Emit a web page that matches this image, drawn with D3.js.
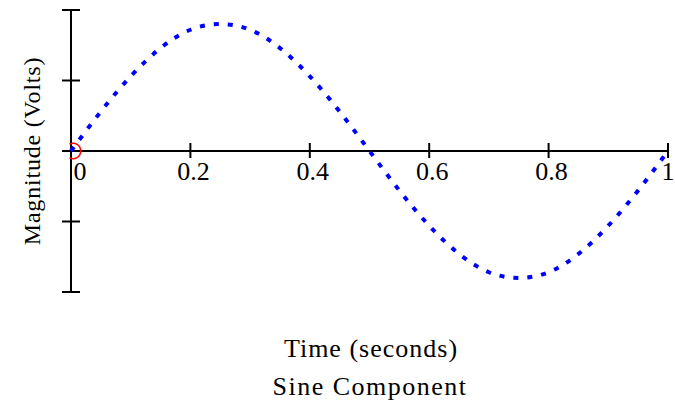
<!DOCTYPE html>
<html>
<head>
<meta charset="utf-8">
<script src="https://cdn.jsdelivr.net/npm/d3@7/dist/d3.min.js"></script>
<style>
  body { margin: 0; background: #fff; }
  text { font-family: "Liberation Serif", "Times New Roman", serif; fill: #000; }
</style>
</head>
<body>
<svg id="chart" width="675" height="408"></svg>
<script>
// Sine component
const times = [0, 0.05, 0.1, 0.15, 0.2, 0.25, 0.3, 0.35, 0.4, 0.45, 0.5,
               0.55, 0.6, 0.65, 0.7, 0.75, 0.8, 0.85, 0.9, 0.95, 1];
const volts = [0, 0.28, 0.53, 0.73, 0.86, 0.9, 0.86, 0.73, 0.53, 0.28, 0,
               -0.28, -0.53, -0.73, -0.86, -0.9, -0.86, -0.73, -0.53, -0.28, 0];
const xTicks = [0, 0.2, 0.4, 0.6, 0.8, 1];
const xTickLabels = ["0", "0.2", "0.4", "0.6", "0.8", "1"];
const yTicks = [-1, -0.5, 0.5, 1];

let svg = d3.select("#chart");

// Scales
// ---------------------------------------------------------
let x = d3.scaleLinear().domain([0, 1]).range([71, 668]);
let y = d3.scaleLinear().domain([-1, 1]).range([292, 10]);

// Axes
// ---------------------------------------------------------
let axes = svg.append("g")
    .attr("stroke", "#000")
    .attr("stroke-width", 2);

// horizontal axis, a little past the vertical one on the left
axes.append("line")
    .attr("x1", x(0) - 9).attr("x2", x(1))
    .attr("y1", y(0)).attr("y2", y(0));

axes.append("line")
    .attr("x1", x(0)).attr("x2", x(0))
    .attr("y1", y(1)).attr("y2", y(-1));

// x ticks cross the axis
axes.selectAll(".xTick")
    .data(xTicks.filter(d => d > 0))
    .enter()
    .append("line")
    .attr("class", "xTick")
    .attr("x1", d => x(d)).attr("x2", d => x(d))
    .attr("y1", y(0) - 8).attr("y2", y(0) + 7);

axes.selectAll(".yTick")
    .data(yTicks)
    .enter()
    .append("line")
    .attr("class", "yTick")
    .attr("x1", x(0) - 9).attr("x2", x(0) + 9)
    .attr("y1", d => y(d)).attr("y2", d => y(d));

svg.selectAll(".xLabel")
    .data(xTicks)
    .enter()
    .append("text")
    .attr("class", "xLabel")
    .attr("x", d => x(d) + (d === 0 ? 9 : d === 1 ? 0 : 3))
    .attr("y", y(0) + 29)
    .attr("text-anchor", "middle")
    .attr("font-size", 26)
    .text((d, i) => xTickLabels[i]);

// Axis titles
// ---------------------------------------------------------
svg.append("text")
    .attr("x", 371)
    .attr("y", 357)
    .attr("text-anchor", "middle")
    .attr("font-size", 26)
    .attr("letter-spacing", 1)
    .text("Time (seconds)");

svg.append("text")
    .attr("x", 370)
    .attr("y", 395)
    .attr("text-anchor", "middle")
    .attr("font-size", 26)
    .attr("letter-spacing", 1.5)
    .text("Sine Component");

svg.append("text")
    .attr("transform", "translate(40," + y(0) + ") rotate(-90)")
    .attr("text-anchor", "middle")
    .attr("font-size", 24)
    .attr("letter-spacing", 0.8)
    .text("Magnitude (Volts)");

// Sine curve, dotted
// ---------------------------------------------------------
let lineGen = d3.line()
    .x((d, i) => x(times[i]))
    .y(d => y(d))
    .curve(d3.curveNatural);

svg.append("path")
    .datum(volts)
    .attr("d", lineGen)
    .attr("fill", "none")
    .attr("stroke", "#0000ff")
    .attr("stroke-width", 4)
    .attr("stroke-dasharray", "5,9");

// red marker at the origin
svg.append("path")
    .attr("transform", "translate(" + (x(0) + 2) + "," + y(0) + ")")
    .attr("d", d3.arc()({innerRadius: 7, outerRadius: 8.5, startAngle: -0.15 * Math.PI, endAngle: 1.15 * Math.PI}))
    .attr("fill", "#ff0000");
</script>
</body>
</html>
